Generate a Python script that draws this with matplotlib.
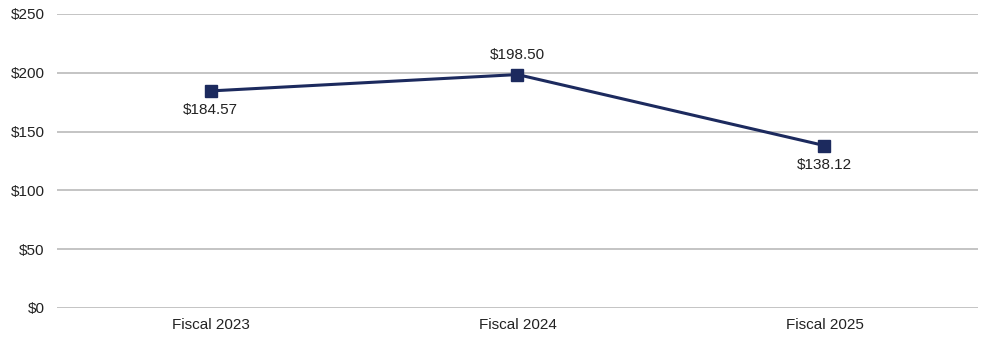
import matplotlib.pyplot as plt
from matplotlib.ticker import FuncFormatter

# Fiscal year values
years = ['Fiscal 2023', 'Fiscal 2024', 'Fiscal 2025']
values = [184.57, 198.50, 138.12]
label_pos = ['below', 'above', 'below']

plt.rcParams['font.family'] = ['Liberation Sans', 'DejaVu Sans']

fig = plt.figure(figsize=(9.87, 3.38), dpi=100)
ax = fig.add_axes([0.0578, 0.0888, 0.933, 0.8698])

navy = '#1c2a5e'
x = list(range(len(years)))
ax.plot(x, values, color=navy, linewidth=2.2, marker='s', markersize=8,
        markerfacecolor=navy, markeredgecolor=navy, zorder=3)

for xi, v, pos in zip(x, values, label_pos):
    dy = -14 if pos == 'below' else 14
    ax.annotate(f'${v:.2f}', (xi, v), xytext=(0, dy), textcoords='offset points',
                ha='center', va='center', fontsize=11, color='#222222')

ax.set_xlim(-0.5, 2.5)
ax.set_ylim(0, 250)
ax.set_yticks(range(0, 251, 50))
ax.yaxis.set_major_formatter(FuncFormatter(lambda v, p: f'${v:.0f}'))
ax.set_xticks(x)
ax.set_xticklabels(years)

ax.grid(axis='y', color='#c4c4c4', linewidth=1.4)
ax.set_axisbelow(True)
for s in ax.spines.values():
    s.set_visible(False)
ax.tick_params(axis='both', length=0, labelsize=11, colors='#222222')
ax.tick_params(axis='y', pad=9)
ax.tick_params(axis='x', pad=7)

fig.savefig('out.png', dpi=100)
